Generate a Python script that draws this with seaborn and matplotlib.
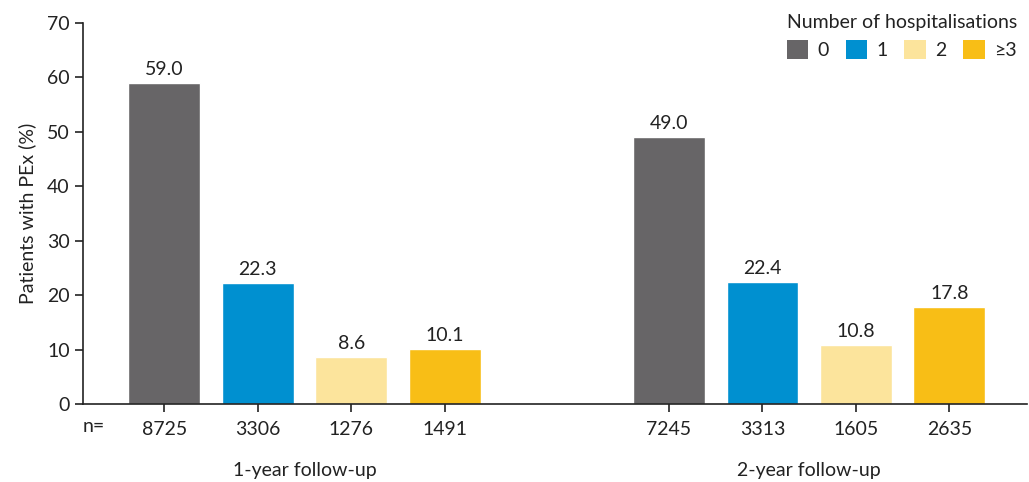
import matplotlib
matplotlib.use("Agg")
import matplotlib.pyplot as plt
import seaborn as sns
import pandas as pd
from matplotlib.patches import Patch

# Data
groups = ["1-year follow-up", "2-year follow-up"]
categories = ["0", "1", "2", "\u22653"]
values_1yr = [59.0, 22.3, 8.6, 10.1]
values_2yr = [49.0, 22.4, 10.8, 17.8]
n_1yr = [8725, 3306, 1276, 1491]
n_2yr = [7245, 3313, 1605, 2635]
colors = ["#676567", "#0090d0", "#fce49c", "#f8be16"]
yticks = [0, 10, 20, 30, 40, 50, 60, 70]

group_offsets = [0.0, 5.4]

rows = []
for g, off, vals, ns in zip(groups, group_offsets, [values_1yr, values_2yr], [n_1yr, n_2yr]):
    for i, (c, v, n) in enumerate(zip(categories, vals, ns)):
        rows.append({"group": g, "cat": c, "value": v, "n": n, "pos": off + i})
df = pd.DataFrame(rows)

sns.set_theme(style="ticks")
plt.rcParams["font.family"] = ["Lato", "DejaVu Sans"]
FS = 14
TC = "#222222"

fig = plt.figure(figsize=(10.29, 4.82), dpi=100)
ax = fig.add_axes([83 / 1029, 1 - 404 / 482, (1027 - 83) / 1029, (404 - 23) / 482])

sns.barplot(data=df, x="pos", y="value", hue="cat", hue_order=categories,
            palette=colors, dodge=False, native_scale=True, width=0.77,
            saturation=1, ax=ax, legend=False)

for _, r in df.iterrows():
    ax.text(r["pos"], r["value"] + 0.9, f"{r['value']:.1f}", ha="center", va="bottom",
            fontsize=FS, color=TC)

ax.set_xlim(-0.87, 9.23)
ax.set_ylim(0, 70)
ax.set_yticks(yticks)
ax.set_yticklabels([str(t) for t in yticks], fontsize=FS, color=TC)
ax.set_xticks(df["pos"].tolist())
ax.set_xticklabels([str(n) for n in df["n"]], fontsize=FS, color=TC)
ax.tick_params(axis="both", direction="out", length=6, width=1.2, color=TC)
ax.tick_params(axis="x", pad=6)
ax.set_xlabel("")
ax.set_ylabel("Patients with PEx (%)", fontsize=FS, color=TC, labelpad=8)
sns.despine(ax=ax)
for s in ["left", "bottom"]:
    ax.spines[s].set_linewidth(1.2)
    ax.spines[s].set_color(TC)

ax.text(-0.87, -4.1, "n=", ha="left", va="center", fontsize=FS, color=TC)
for g, off in zip(groups, group_offsets):
    ax.text(off + 1.5, -12.2, g, ha="center", va="center", fontsize=FS, color=TC)

handles = [Patch(facecolor=c, edgecolor="none") for c in colors]
leg = ax.legend(handles, categories, title="Number of hospitalisations", ncol=4,
                loc="upper left", bbox_to_anchor=(0.737, 1.045), frameon=False,
                fontsize=FS, title_fontsize=FS, handlelength=1.1, handleheight=1.1,
                handletextpad=0.5, columnspacing=0.85, borderaxespad=0)
leg._legend_box.align = "left"
for t in leg.get_texts():
    t.set_color(TC)
leg.get_title().set_color(TC)

fig.savefig("out.png", dpi=100)
